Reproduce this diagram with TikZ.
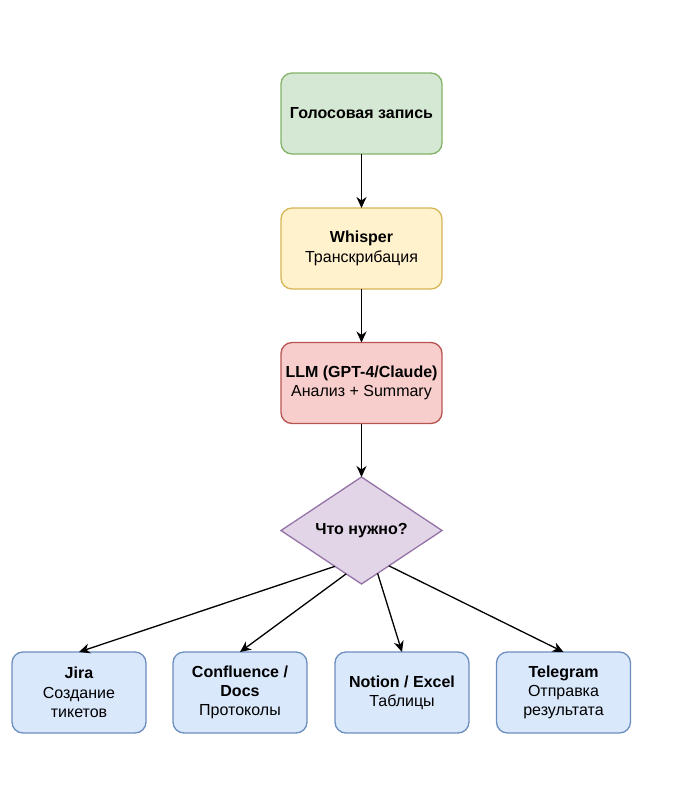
\documentclass[tikz,border=0pt]{standalone}
\usepackage{fontspec}
\setmainfont{Liberation Sans}
\usepackage{xcolor}
\usepackage{tikz}
\usetikzlibrary{shapes.geometric, arrows.meta, calc}

\begin{document}
\begin{tikzpicture}[x=1pt, y=-1pt,
    font=\fontsize{16pt}{19.3pt}\selectfont,
    box/.style={draw, line width=1.3pt, rounded corners=11pt, align=center,
        minimum width=161pt, minimum height=81pt, inner sep=0pt, outer sep=0pt},
    target/.style={box, minimum width=134pt, fill=tblue, draw=sblue},
    flow/.style={-{Stealth[length=11pt, width=10pt, inset=3.5pt]}, line width=1.3pt}]

% Define colors for each block
\definecolor{tgreen}{HTML}{D5E8D4}\definecolor{sgreen}{HTML}{82B366}
\definecolor{tyellow}{HTML}{FFF2CC}\definecolor{syellow}{HTML}{D6B656}
\definecolor{tred}{HTML}{F8CECC}\definecolor{sred}{HTML}{B85450}
\definecolor{tpurple}{HTML}{E1D5E7}\definecolor{spurple}{HTML}{9673A6}
\definecolor{tblue}{HTML}{DAE8FC}\definecolor{sblue}{HTML}{6C8EBF}

\useasboundingbox (0,0) rectangle (673,804);

% Main chain
\node[box, fill=tgreen, draw=sgreen] (voice) at (361.5,113.5) {\textbf{Голосовая запись}};
\node[box, fill=tyellow, draw=syellow] (whisper) at (361.5,248.5) {\textbf{Whisper}\\Транскрибация};
\node[box, fill=tred, draw=sred] (llm) at (361.5,383) {\textbf{LLM (GPT-4/Claude)}\\Анализ + Summary};
\node[diamond, draw=spurple, fill=tpurple, line width=1.3pt, minimum width=161pt,
    minimum height=107pt, inner sep=0pt, outer sep=0pt] (choice) at (361.5,530.5) {\textbf{Что нужно?}};

% Targets
\node[target] (jira) at (79,692.5) {\textbf{Jira}\\Создание\\тикетов};
\node[target] (conf) at (240,692.5) {\textbf{Confluence /}\\\textbf{Docs}\\Протоколы};
\node[target] (notion) at (402,692.5) {\textbf{Notion / Excel}\\Таблицы};
\node[target] (tg) at (563.5,692.5) {\textbf{Telegram}\\Отправка\\результата};

% Connectors
\draw[flow] (voice) -- (whisper);
\draw[flow] (whisper) -- (llm);
\draw[flow] (llm) -- (choice);
\draw[flow] ($(choice.west)!0.67!(choice.south)$) -- (jira.north);
\draw[flow] ($(choice.west)!0.81!(choice.south)$) -- (conf.north);
\draw[flow] ($(choice.south)!0.2!(choice.east)$) -- (notion.north);
\draw[flow] ($(choice.south)!0.34!(choice.east)$) -- (tg.north);

\end{tikzpicture}
\end{document}
